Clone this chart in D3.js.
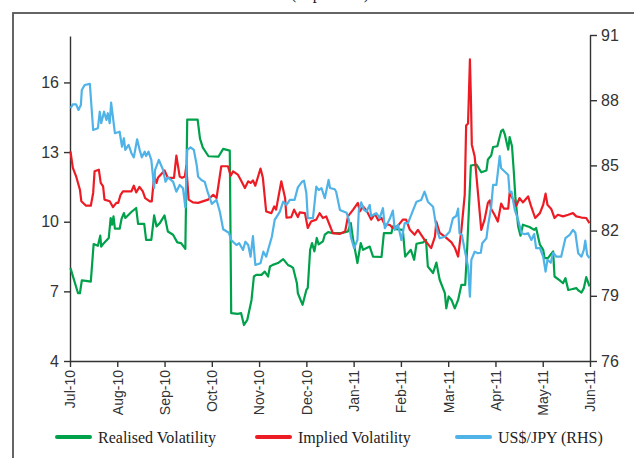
<!DOCTYPE html>
<html>
<head>
<meta charset="utf-8">
<script src="https://cdn.jsdelivr.net/npm/d3@7"></script>
<style>
  body { margin: 0; background: #fff; }
  svg { display: block; font-family: "Liberation Serif", "DejaVu Serif", serif; }
  .axis path, .axis line { stroke: #333; stroke-width: 1.4; }
  .axis text { fill: #333; }
</style>
</head>
<body>
<svg id="chart" width="634" height="458"></svg>
<script>
// month tick labels (x axis runs Jul-10 .. Jun-11, one unit per month)
const months = ['Jul-10', 'Aug-10', 'Sep-10', 'Oct-10', 'Nov-10', 'Dec-10',
  'Jan-11', 'Feb-11', 'Mar-11', 'Apr-11', 'May-11', 'Jun-11'];
const leftTicks = [4, 7, 10, 13, 16];
const rightTicks = [76, 79, 82, 85, 88, 91];

// [months since Jul-10, per cent]
const realised = [
  [0.01, 8.00], [0.17, 6.92], [0.21, 6.92], [0.25, 7.47], [0.34, 7.45], [0.44, 7.42], [0.50, 9.04],
  [0.59, 8.96], [0.64, 9.40], [0.66, 8.93], [0.70, 9.04], [0.82, 9.30], [0.86, 10.16], [0.89, 9.87],
  [0.92, 10.23], [0.95, 9.70], [1.05, 9.70], [1.09, 10.12], [1.14, 10.37], [1.17, 10.16], [1.24, 10.30],
  [1.31, 10.44], [1.40, 10.59], [1.44, 9.91], [1.57, 9.91], [1.61, 9.22], [1.72, 9.22], [1.78, 10.27],
  [1.83, 9.80], [1.90, 9.94], [2.00, 10.27], [2.07, 9.58], [2.18, 9.44], [2.27, 9.11], [2.35, 9.08],
  [2.44, 8.83], [2.48, 14.40], [2.70, 14.40], [2.75, 13.58], [2.81, 13.19], [2.93, 12.82], [3.14, 12.80],
  [3.24, 13.14], [3.38, 13.06], [3.41, 6.06], [3.55, 6.03], [3.62, 6.06], [3.68, 5.55], [3.75, 5.77],
  [3.84, 6.63], [3.89, 7.64], [3.94, 7.71], [4.05, 7.71], [4.12, 7.85], [4.19, 7.64], [4.23, 8.07],
  [4.29, 8.14], [4.40, 8.22], [4.51, 8.39], [4.61, 8.14], [4.68, 8.07], [4.72, 8.01], [4.80, 7.35],
  [4.82, 6.92], [4.92, 6.42], [5.00, 7.06], [5.03, 7.15], [5.08, 8.79], [5.12, 9.08], [5.17, 8.72],
  [5.22, 9.30], [5.26, 9.02], [5.35, 9.15], [5.39, 9.44], [5.46, 9.55], [5.56, 9.51], [5.74, 9.51],
  [5.88, 9.58], [5.94, 9.94], [5.99, 9.22], [6.08, 8.22], [6.15, 9.08], [6.20, 8.79], [6.34, 8.93],
  [6.41, 8.50], [6.59, 8.48], [6.64, 9.51], [6.80, 9.51], [6.83, 9.80], [6.90, 9.68], [7.04, 9.65],
  [7.09, 8.50], [7.21, 8.79], [7.28, 8.36], [7.33, 9.05], [7.47, 9.11], [7.53, 9.22], [7.57, 8.07],
  [7.68, 7.79], [7.75, 8.24], [7.82, 7.50], [7.93, 6.92], [7.96, 6.27], [8.01, 6.78], [8.07, 6.63],
  [8.14, 6.27], [8.21, 6.63], [8.28, 7.28], [8.36, 7.28], [8.40, 8.79], [8.48, 12.42], [8.60, 12.46],
  [8.70, 12.13], [8.81, 12.21], [8.84, 12.68], [8.91, 12.85], [8.95, 13.22], [9.04, 13.25], [9.12, 13.90],
  [9.16, 13.97], [9.20, 13.75], [9.27, 13.11], [9.30, 13.65], [9.35, 13.25], [9.39, 12.10], [9.42, 11.09],
  [9.48, 9.80], [9.53, 9.40], [9.58, 9.87], [9.72, 9.77], [9.82, 9.65], [9.86, 9.73], [9.94, 9.01],
  [10.01, 8.79], [10.04, 8.43], [10.11, 8.43], [10.22, 8.72], [10.25, 7.64], [10.36, 7.47], [10.43, 7.35],
  [10.48, 7.57], [10.54, 7.06], [10.61, 7.09], [10.71, 7.14], [10.76, 7.03], [10.82, 6.95], [10.87, 7.14],
  [10.92, 7.61], [10.99, 7.21]
];

const implied = [
  [0.01, 13.03], [0.06, 12.32], [0.13, 11.95], [0.21, 11.38], [0.24, 10.88], [0.34, 10.69], [0.44, 10.69],
  [0.49, 11.24], [0.52, 12.17], [0.61, 12.24], [0.65, 11.67], [0.70, 11.52], [0.73, 10.95], [0.84, 10.88],
  [0.91, 10.63], [0.98, 10.81], [1.02, 10.81], [1.07, 11.16], [1.12, 11.31], [1.30, 11.31], [1.35, 11.55],
  [1.40, 11.26], [1.47, 11.50], [1.54, 11.31], [1.59, 11.02], [1.69, 10.88], [1.73, 10.88], [1.78, 11.95],
  [1.83, 11.67], [1.86, 11.89], [2.00, 12.21], [2.07, 11.89], [2.20, 11.89], [2.25, 12.85], [2.32, 11.95],
  [2.37, 11.89], [2.43, 11.95], [2.46, 12.39], [2.51, 10.95], [2.60, 10.83], [2.71, 10.81], [2.92, 10.95],
  [3.03, 11.16], [3.10, 11.02], [3.20, 12.39], [3.34, 12.39], [3.40, 11.98], [3.45, 12.17], [3.55, 12.03],
  [3.61, 11.81], [3.70, 11.45], [3.77, 11.74], [3.82, 11.67], [3.87, 11.78], [3.92, 11.55], [4.03, 12.29],
  [4.08, 11.89], [4.15, 10.44], [4.26, 10.37], [4.32, 10.66], [4.36, 10.52], [4.47, 11.74], [4.55, 11.02],
  [4.58, 10.17], [4.68, 10.20], [4.74, 10.52], [4.82, 10.20], [4.86, 10.40], [4.97, 10.37], [5.03, 9.73],
  [5.10, 10.01], [5.21, 10.09], [5.28, 10.37], [5.35, 10.16], [5.42, 10.23], [5.49, 9.87], [5.56, 9.51],
  [5.71, 9.48], [5.82, 9.58], [5.88, 10.23], [5.99, 10.52], [6.09, 10.81], [6.13, 10.44], [6.20, 10.66],
  [6.27, 10.49], [6.37, 10.09], [6.45, 10.34], [6.52, 10.06], [6.59, 10.16], [6.66, 9.87], [6.76, 9.87],
  [6.83, 9.73], [6.94, 9.83], [7.04, 10.09], [7.11, 10.09], [7.19, 9.65], [7.29, 9.44], [7.36, 9.65],
  [7.50, 9.22], [7.64, 8.86], [7.72, 9.36], [7.75, 10.00], [7.82, 9.52], [7.93, 9.36], [8.07, 9.11],
  [8.14, 8.88], [8.21, 8.50], [8.28, 9.65], [8.35, 11.16], [8.38, 14.14], [8.42, 14.23], [8.46, 16.99],
  [8.48, 15.41], [8.50, 13.32], [8.56, 12.82], [8.63, 11.24], [8.70, 9.65], [8.77, 10.09], [8.84, 10.81],
  [8.88, 10.92], [8.91, 10.55], [8.98, 10.30], [9.05, 10.01], [9.12, 10.78], [9.18, 10.56], [9.27, 10.56],
  [9.30, 11.24], [9.37, 10.98], [9.44, 10.69], [9.51, 11.02], [9.58, 10.83], [9.69, 11.09], [9.75, 10.69],
  [9.84, 10.16], [9.94, 10.37], [10.01, 10.73], [10.06, 11.21], [10.10, 10.73], [10.18, 10.55],
  [10.25, 10.16], [10.32, 10.30], [10.43, 10.23], [10.54, 10.30], [10.64, 10.37], [10.71, 10.23],
  [10.82, 10.18], [10.92, 10.16], [10.99, 9.94]
];

// [months since Jul-10, yen per US dollar] - right hand scale
const usdJpy = [
  [0.01, 87.63], [0.06, 87.81], [0.13, 87.81], [0.18, 87.55], [0.23, 87.78], [0.25, 88.47], [0.31, 88.70],
  [0.42, 88.75], [0.49, 86.63], [0.59, 86.71], [0.63, 87.47], [0.66, 86.94], [0.72, 87.47], [0.77, 87.09],
  [0.80, 87.40], [0.84, 86.94], [0.87, 87.89], [0.95, 86.48], [1.05, 86.55], [1.10, 85.86], [1.14, 86.25],
  [1.17, 85.71], [1.24, 85.94], [1.30, 85.56], [1.35, 85.37], [1.42, 86.20], [1.47, 85.74], [1.52, 85.37],
  [1.58, 85.63], [1.61, 85.43], [1.66, 85.63], [1.72, 85.25], [1.78, 83.95], [1.80, 84.79], [1.88, 85.25],
  [1.97, 84.79], [2.02, 84.25], [2.07, 84.45], [2.18, 84.25], [2.25, 83.79], [2.32, 84.10], [2.39, 83.95],
  [2.44, 83.07], [2.48, 85.71], [2.55, 85.83], [2.62, 85.71], [2.68, 85.02], [2.71, 84.48], [2.78, 84.33],
  [2.85, 84.24], [2.92, 83.72], [3.00, 83.23], [3.10, 83.41], [3.17, 82.87], [3.24, 82.06], [3.36, 81.90],
  [3.41, 81.57], [3.52, 81.34], [3.58, 81.42], [3.66, 81.11], [3.71, 81.49], [3.77, 81.34], [3.82, 80.80],
  [3.87, 81.75], [3.92, 80.42], [4.03, 80.50], [4.09, 81.03], [4.15, 80.80], [4.22, 81.34], [4.27, 81.72],
  [4.33, 82.49], [4.44, 82.87], [4.51, 83.33], [4.58, 83.18], [4.65, 83.41], [4.75, 83.41], [4.82, 83.99],
  [4.91, 84.25], [4.95, 84.30], [5.00, 83.72], [5.03, 82.57], [5.14, 82.57], [5.21, 84.02], [5.26, 83.87],
  [5.32, 83.95], [5.39, 83.49], [5.47, 84.33], [5.50, 83.96], [5.60, 83.90], [5.63, 83.79], [5.71, 82.95],
  [5.85, 82.82], [5.90, 82.49], [5.94, 81.72], [6.01, 81.19], [6.08, 81.57], [6.11, 82.95], [6.16, 83.30],
  [6.22, 82.95], [6.27, 82.87], [6.34, 83.18], [6.37, 82.67], [6.48, 82.80], [6.55, 82.57], [6.62, 83.03],
  [6.66, 82.11], [6.76, 82.52], [6.83, 82.92], [6.87, 82.03], [6.94, 82.26], [7.01, 81.57], [7.08, 82.34],
  [7.15, 82.34], [7.26, 82.95], [7.33, 83.33], [7.43, 83.41], [7.50, 83.79], [7.57, 83.33], [7.68, 83.10],
  [7.75, 82.15], [7.82, 81.65], [7.93, 81.72], [8.03, 81.95], [8.10, 82.57], [8.17, 82.67], [8.21, 83.01],
  [8.24, 81.88], [8.29, 81.80], [8.35, 81.11], [8.42, 80.34], [8.46, 78.96], [8.49, 80.65], [8.56, 81.03],
  [8.63, 80.96], [8.69, 80.98], [8.72, 81.42], [8.81, 81.65], [8.84, 82.18], [8.91, 83.10], [8.95, 84.10],
  [9.02, 84.10], [9.09, 85.43], [9.12, 84.87], [9.20, 84.71], [9.27, 84.56], [9.30, 83.75], [9.34, 83.79],
  [9.41, 82.95], [9.48, 82.49], [9.55, 81.88], [9.62, 81.84], [9.69, 81.88], [9.76, 81.57], [9.82, 81.84],
  [9.86, 81.19], [9.94, 81.19], [10.01, 80.80], [10.06, 80.11], [10.10, 80.65], [10.17, 80.52],
  [10.22, 80.98], [10.29, 80.80], [10.39, 80.80], [10.48, 81.65], [10.57, 81.80], [10.64, 82.03],
  [10.69, 81.90], [10.75, 80.96], [10.82, 80.80], [10.87, 81.11], [10.90, 81.54], [10.94, 80.88],
  [10.99, 80.73]
];

const series = [
  { name: 'Realised Volatility', color: '#00a14b', data: realised, axis: 'left' },
  { name: 'Implied Volatility', color: '#ed1c24', data: implied, axis: 'left' },
  { name: 'US$/JPY (RHS)', color: '#4fb3e8', data: usdJpy, axis: 'right' }
];

const svg = d3.select('#chart');

// frame round the chart (open below and to the right, as cropped)
svg.append('rect')
  .attr('x', 13).attr('y', 13)
  .attr('width', 700).attr('height', 500)
  .attr('fill', 'none')
  .attr('stroke', '#555')
  .attr('stroke-width', 1.8);

// title, mostly cropped off the top of the picture
svg.append('text')
  .attr('x', 330).attr('y', -1)
  .attr('text-anchor', 'middle')
  .attr('font-size', 16)
  .attr('fill', '#222')
  .text('(in per cent)');

const x = d3.scaleLinear().domain([0, months.length - 1]).range([70, 590]);
const yL = d3.scaleLinear().domain([4, 18]).range([361, 36]);
const yR = d3.scaleLinear().domain([76, 91]).range([361, 35]);

const xAxis = svg.append('g')
  .attr('class', 'axis')
  .attr('transform', 'translate(0,361)')
  .call(d3.axisBottom(x)
    .tickValues(d3.range(months.length))
    .tickFormat(i => months[i])
    .tickSize(6)
    .tickSizeOuter(0));
xAxis.selectAll('text')
  .attr('font-size', 14)
  .attr('transform', 'rotate(-90)')
  .attr('text-anchor', 'end')
  .attr('x', -9)
  .attr('y', 0)
  .attr('dy', '0.35em');

svg.append('g')
  .attr('class', 'axis')
  .attr('transform', 'translate(70,0)')
  .call(d3.axisLeft(yL).tickValues(leftTicks).tickSize(6).tickSizeOuter(0).tickPadding(5))
  .selectAll('text').attr('font-size', 16);

svg.append('g')
  .attr('class', 'axis')
  .attr('transform', 'translate(590,0)')
  .call(d3.axisRight(yR).tickValues(rightTicks).tickSize(7).tickSizeOuter(0).tickPadding(4))
  .selectAll('text').attr('font-size', 16);

series.forEach(s => {
  const yScale = s.axis === 'left' ? yL : yR;
  const line = d3.line()
    .x(d => x(d[0]))
    .y(d => yScale(d[1]));
  svg.append('path')
    .datum(s.data)
    .attr('fill', 'none')
    .attr('stroke', s.color)
    .attr('stroke-width', 2.2)
    .attr('stroke-linejoin', 'round')
    .attr('d', line);
});

// legend
const legendX = [57, 257, 457];
const legend = svg.append('g').attr('class', 'legend');
series.forEach((s, i) => {
  const g = legend.append('g').attr('transform', `translate(${legendX[i]},437)`);
  g.append('line')
    .attr('x1', 0).attr('x2', 33)
    .attr('stroke', s.color)
    .attr('stroke-width', 4)
    .attr('stroke-linecap', 'round');
  g.append('text')
    .attr('x', 41)
    .attr('dy', '0.35em')
    .attr('font-size', 16)
    .attr('fill', '#222')
    .text(s.name);
});
</script>
</body>
</html>
